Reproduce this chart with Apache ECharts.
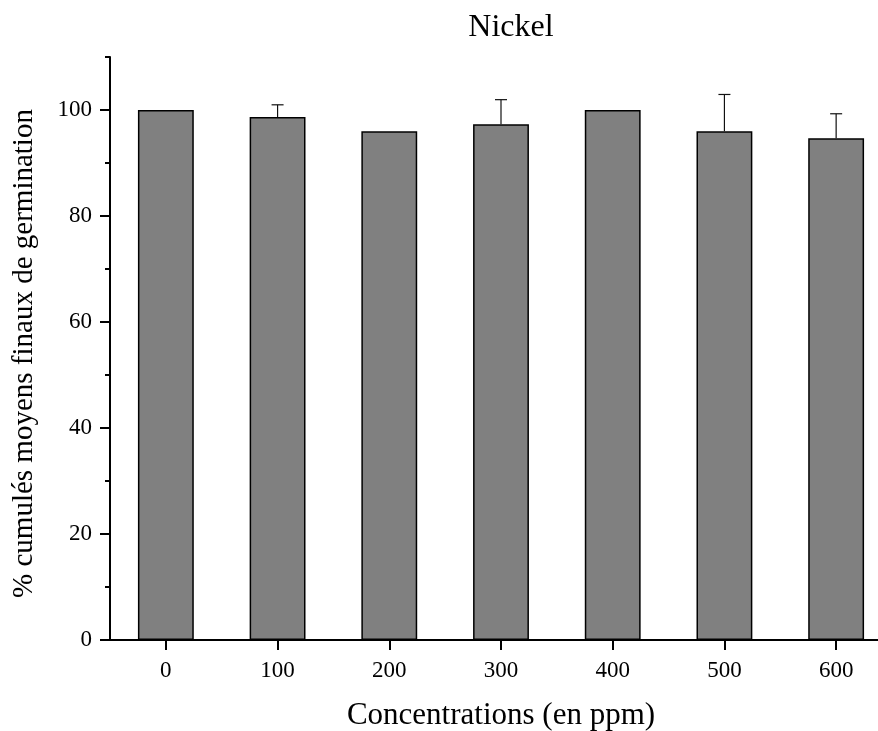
<!DOCTYPE html>
<html>
<head>
<meta charset="utf-8">
<style>
  html, body { margin: 0; padding: 0; background: #fff; }
  #chart { width: 878px; height: 731px; }
</style>
<script src="https://cdn.jsdelivr.net/npm/echarts@6/dist/echarts.min.js"></script>
</head>
<body>
<div id="chart"></div>
<script>
// Nickel concentrations tested (ppm)
const concentrations = ['0', '100', '200', '300', '400', '500', '600'];
// Mean final cumulative germination (%)
const meanGermination = [100, 98.67, 96, 97.33, 100, 96, 94.67];
// Standard deviation for each concentration
const stdDev = [0, 2.31, 0, 4.62, 0, 6.93, 4.62];
// Y axis ticks
const yMajorTicks = [0, 20, 40, 60, 80, 100];
const yMinorTicks = [10, 30, 50, 70, 90, 110];

const FONT = '"Liberation Serif", "Times New Roman", serif';

const chart = echarts.init(document.getElementById('chart'));

const errorData = concentrations.map((c, i) => [i, meanGermination[i], meanGermination[i] + stdDev[i]]);

chart.setOption({
  backgroundColor: '#ffffff',
  animation: false,
  title: {
    text: 'Nickel',
    left: 506,
    textAlign: 'center',
    top: 7,
    textStyle: { fontFamily: FONT, fontSize: 32, fontWeight: 'normal', color: '#000' }
  },
  grid: {
    left: 110,
    right: -14,
    top: 57,
    bottom: 91,
    outerBoundsMode: 'none'
  },
  xAxis: {
    type: 'category',
    data: concentrations,
    boundaryGap: true,
    name: 'Concentrations (en ppm)',
    nameLocation: 'middle',
    nameGap: 60,
    nameTextStyle: { fontFamily: FONT, fontSize: 31, color: '#000' },
    axisLine: { show: true, lineStyle: { color: '#000', width: 2 } },
    axisTick: { show: true, alignWithLabel: true, length: 10, lineStyle: { color: '#000', width: 2 } },
    axisLabel: { fontFamily: FONT, fontSize: 23, color: '#000', margin: 19 },
    splitLine: { show: false }
  },
  yAxis: [
    {
      type: 'value',
      min: 0,
      max: 110,
      interval: 10,
      name: '% cumulés moyens finaux de germination',
      nameLocation: 'middle',
      nameGap: 71,
      nameTextStyle: { fontFamily: FONT, fontSize: 29, color: '#000', padding: [0, 0, 0, -10] },
      axisLine: { show: true, lineStyle: { color: '#000', width: 2 } },
      axisTick: { show: true, length: 10, customValues: yMajorTicks, lineStyle: { color: '#000', width: 2 } },
      axisLabel: { fontFamily: FONT, fontSize: 23, color: '#000', margin: 18, customValues: yMajorTicks },
      splitLine: { show: false }
    },
    {
      type: 'value',
      min: 0,
      max: 110,
      interval: 10,
      position: 'left',
      axisLine: { show: false },
      axisTick: { show: true, length: 5, customValues: yMinorTicks, lineStyle: { color: '#000', width: 2 } },
      axisLabel: { show: false },
      splitLine: { show: false }
    }
  ],
  series: [
    {
      type: 'bar',
      data: meanGermination,
      barWidth: '50%',
      itemStyle: { color: '#808080', borderColor: '#000', borderWidth: 1.5 },
      z: 2
    },
    {
      type: 'custom',
      data: errorData,
      z: 3,
      renderItem: function (params, api) {
        if (stdDev[api.value(0)] === 0) return null;
        const base = api.coord([api.value(0), api.value(1)]);
        const top = api.coord([api.value(0), api.value(2)]);
        const half = 6;
        const style = { stroke: '#111', lineWidth: 1.2 };
        return {
          type: 'group',
          children: [
            { type: 'line', shape: { x1: base[0], y1: base[1], x2: top[0], y2: top[1] }, style: style },
            { type: 'line', shape: { x1: top[0] - half, y1: top[1], x2: top[0] + half, y2: top[1] }, style: style }
          ]
        };
      }
    }
  ]
});
</script>
</body>
</html>
